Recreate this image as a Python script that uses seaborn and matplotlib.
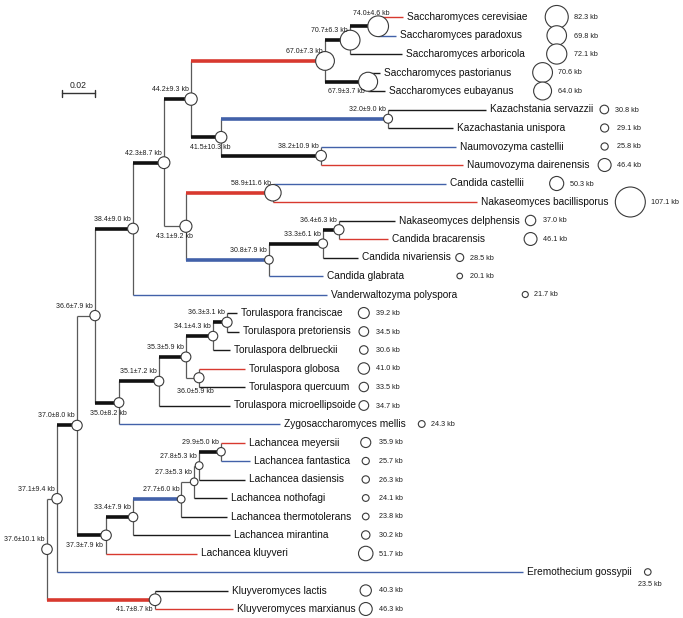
import matplotlib
matplotlib.use("Agg")
import matplotlib.pyplot as plt
import numpy as np
import pandas as pd
import seaborn as sns

# ---------------- data ----------------
leaf_names = [
    "Saccharomyces cerevisiae", "Saccharomyces paradoxus", "Saccharomyces arboricola",
    "Saccharomyces pastorianus", "Saccharomyces eubayanus",
    "Kazachstania servazzii", "Kazachastania unispora",
    "Naumovozyma castellii", "Naumovozyma dairenensis",
    "Candida castellii", "Nakaseomyces bacillisporus",
    "Nakaseomyces delphensis", "Candida bracarensis",
    "Candida nivariensis", "Candida glabrata",
    "Vanderwaltozyma polyspora",
    "Torulaspora franciscae", "Torulaspora pretoriensis", "Torulaspora delbrueckii",
    "Torulaspora globosa", "Torulaspora quercuum", "Torulaspora microellipsoide",
    "Zygosaccharomyces mellis",
    "Lachancea meyersii", "Lachancea fantastica", "Lachancea dasiensis",
    "Lachancea nothofagi", "Lachancea thermotolerans", "Lachancea mirantina",
    "Lachancea kluyveri",
    "Eremothecium gossypii",
    "Kluyveromyces lactis", "Kluyveromyces marxianus",
]
leaf_kb = [82.3, 69.8, 72.1, 70.6, 64.0, 30.8, 29.1, 25.8, 46.4, 50.3, 107.1,
           37.0, 46.1, 28.5, 20.1, 21.7, 39.2, 34.5, 30.6, 41.0, 33.5, 34.7,
           24.3, 35.9, 25.7, 26.3, 24.1, 23.8, 30.2, 51.7, 23.5, 40.3, 46.3]

node_names = ["n37.6", "n37.1", "n37.0", "n36.6", "n38.4", "n42.3", "n44.2", "n67.0",
              "n70.7", "n74.0", "n67.9", "n41.5", "n32.0", "n38.2", "n43.1", "n58.9",
              "n30.8", "n33.3", "n36.4", "n35.0", "n35.1", "n35.3", "n34.1", "n36.3",
              "n36.0", "n37.3", "n33.4", "n27.7", "n27.3", "n27.8", "n29.9", "n41.7"]
node_kb = [37.6, 37.1, 37.0, 36.6, 38.4, 42.3, 44.2, 67.0, 70.7, 74.0, 67.9, 41.5,
           32.0, 38.2, 43.1, 58.9, 30.8, 33.3, 36.4, 35.0, 35.1, 35.3, 34.1, 36.3,
           36.0, 37.3, 33.4, 27.7, 27.3, 27.8, 29.9, 41.7]
node_sd = [10.1, 9.4, 8.0, 7.9, 9.0, 8.7, 9.3, 7.3, 6.3, 4.6, 3.7, 10.3, 9.0, 10.9,
           9.2, 11.6, 7.9, 6.1, 6.3, 8.2, 7.2, 5.9, 4.3, 3.1, 5.9, 7.9, 7.9, 6.0,
           5.3, 5.3, 5.0, 8.7]

edge_child = [
    "n37.1", "n41.7", "n37.0", "Eremothecium gossypii", "n36.6", "n37.3",
    "n38.4", "n35.0", "n42.3", "Vanderwaltozyma polyspora", "n44.2", "n43.1",
    "n67.0", "n41.5", "n70.7", "n67.9", "n74.0", "Saccharomyces arboricola",
    "Saccharomyces cerevisiae", "Saccharomyces paradoxus",
    "Saccharomyces pastorianus", "Saccharomyces eubayanus",
    "n32.0", "n38.2", "Kazachstania servazzii", "Kazachastania unispora",
    "Naumovozyma castellii", "Naumovozyma dairenensis", "n58.9", "n30.8",
    "Candida castellii", "Nakaseomyces bacillisporus", "n33.3", "Candida glabrata",
    "n36.4", "Candida nivariensis", "Nakaseomyces delphensis", "Candida bracarensis",
    "n35.1", "Zygosaccharomyces mellis", "n35.3", "Torulaspora microellipsoide",
    "n34.1", "n36.0", "n36.3", "Torulaspora delbrueckii",
    "Torulaspora franciscae", "Torulaspora pretoriensis",
    "Torulaspora globosa", "Torulaspora quercuum",
    "n33.4", "Lachancea kluyveri", "n27.7", "Lachancea mirantina",
    "n27.3", "Lachancea thermotolerans", "n27.8", "Lachancea nothofagi",
    "n29.9", "Lachancea dasiensis", "Lachancea meyersii", "Lachancea fantastica",
    "Kluyveromyces lactis", "Kluyveromyces marxianus",
]
edge_parent = [
    "n37.6", "n37.6", "n37.1", "n37.1", "n37.0", "n37.0",
    "n36.6", "n36.6", "n38.4", "n38.4", "n42.3", "n42.3",
    "n44.2", "n44.2", "n67.0", "n67.0", "n70.7", "n70.7",
    "n74.0", "n74.0", "n67.9", "n67.9",
    "n41.5", "n41.5", "n32.0", "n32.0", "n38.2", "n38.2", "n43.1", "n43.1",
    "n58.9", "n58.9", "n30.8", "n30.8", "n33.3", "n33.3", "n36.4", "n36.4",
    "n35.0", "n35.0", "n35.1", "n35.1", "n35.3", "n35.3", "n34.1", "n34.1",
    "n36.3", "n36.3", "n36.0", "n36.0",
    "n37.3", "n37.3", "n33.4", "n33.4", "n27.7", "n27.7", "n27.3", "n27.3",
    "n27.8", "n27.8", "n29.9", "n29.9", "n41.7", "n41.7",
]
branch_len = [
    0.0061, 0.0655, 0.0121, 0.2824, 0.0109, 0.0176,
    0.0230, 0.0145, 0.0188, 0.1176, 0.0164, 0.0133,
    0.0812, 0.0182, 0.0152, 0.0261, 0.0170, 0.0315,
    0.0152, 0.0109, 0.0073, 0.0103,
    0.1012, 0.0606, 0.0594, 0.0394, 0.0818, 0.0861, 0.0527, 0.0503,
    0.1048, 0.1236, 0.0327, 0.0327, 0.0097, 0.0212, 0.0339, 0.0297,
    0.0242, 0.0976, 0.0164, 0.0430, 0.0164, 0.0079, 0.0085, 0.0103,
    0.0061, 0.0073, 0.0279, 0.0279,
    0.0164, 0.0552, 0.0291, 0.0588, 0.0079, 0.0279, 0.0030, 0.0200,
    0.0133, 0.0279, 0.0145, 0.0176, 0.0442, 0.0473,
]
scale_bar_len = 0.02

# branch colouring (gain = red, loss = blue) and emphasised branches
red_branches = ["n67.0", "n41.7", "n58.9", "Saccharomyces cerevisiae",
                "Naumovozyma dairenensis", "Nakaseomyces bacillisporus",
                "Candida bracarensis", "Torulaspora globosa", "Lachancea meyersii",
                "Lachancea kluyveri", "Kluyveromyces marxianus"]
blue_branches = ["n32.0", "n30.8", "n27.7", "Saccharomyces paradoxus",
                 "Naumovozyma castellii", "Candida castellii", "Candida glabrata",
                 "Vanderwaltozyma polyspora", "Zygosaccharomyces mellis",
                 "Lachancea fantastica", "Eremothecium gossypii"]
thick_branches = ["n67.0", "n41.7", "n58.9", "n32.0", "n30.8", "n27.7", "n70.7",
                  "n74.0", "n67.9", "n44.2", "n41.5", "n38.2", "n42.3", "n38.4",
                  "n33.3", "n36.4", "n35.0", "n35.1", "n35.3", "n34.1", "n36.3",
                  "n37.0", "n37.3", "n33.4", "n29.9"]

# ---------------- layout / style ----------------
W, H = 683, 618
PX_PER_UNIT = 1650.0
ROOT_PX = 47
TOP_PX, ROW_PX = 17, 18.5
RED, BLUE = "#d8392f", "#4261a9"
R_PER_KB = 0.14   # circle radius in px per kb
PT = 0.72         # points per px at dpi 100

label_pos = {"n74.0": "uc", "n67.9": "ll", "n37.3": "ll", "n41.7": "ll",
             "n41.5": "lc", "n43.1": "lc", "n35.0": "lc", "n36.0": "lc2"}
size_group = ["sac1"] * 3 + ["sac2"] * 2 + ["kaz1"] + ["kaz2"] * 3 + ["ccas", "bac"] + \
             ["nak"] * 2 + ["cgl"] * 2 + ["van"] + ["tor"] * 6 + ["zyg"] + ["lac"] * 7 + \
             ["ere"] + ["lac"] * 2
group_pad = {"sac1": 29, "sac2": 29, "kaz1": 11, "kaz2": 15, "ccas": 33, "bac": 22,
             "nak": 11, "cgl": 9, "van": 68, "tor": 8, "zyg": 16, "lac": 10, "ere": 16}

sns.set_theme(style="white")
plt.rcParams["font.family"] = ["Liberation Sans", "DejaVu Sans"]

fig = plt.figure(figsize=(W / 100, H / 100), dpi=100)
ax = fig.add_axes([0, 0, 1, 1])
ax.set_xlim(-ROOT_PX / PX_PER_UNIT, (W - ROOT_PX) / PX_PER_UNIT)
ax.set_ylim((H - TOP_PX) / ROW_PX, -TOP_PX / ROW_PX)
ax.axis("off")

# ---------------- tree geometry from data ----------------
children = {}
parent_of = {}
blen = {}
for c, p, b in zip(edge_child, edge_parent, branch_len):
    children.setdefault(p, []).append(c)
    parent_of[c] = p
    blen[c] = b
root = [n for n in node_names if n not in parent_of][0]

xpos = {root: 0.0}
order = [root]
i = 0
while i < len(order):
    n = order[i]
    for c in children.get(n, []):
        xpos[c] = xpos[n] + blen[c]
        order.append(c)
    i += 1

ypos = {name: k for k, name in enumerate(leaf_names)}
for n in reversed(order):
    if n in children:
        ypos[n] = np.mean([ypos[c] for c in children[n]])

def branch_style(c):
    thick = c in thick_branches
    if c in red_branches:
        return "thick_red" if thick else "thin_red"
    if c in blue_branches:
        return "thick_blue" if thick else "thin_blue"
    if thick:
        return "thick"
    return "tip" if c in ypos and c in leaf_names else "vert"

rows = []
seg = 0
for c in edge_child:
    p = parent_of[c]
    st = branch_style(c)
    rows.append(dict(seg=seg, x=xpos[p], y=ypos[c], style=st))
    rows.append(dict(seg=seg, x=xpos[c], y=ypos[c], style=st))
    seg += 1
for n, ch in children.items():
    ys = [ypos[c] for c in ch]
    rows.append(dict(seg=seg, x=xpos[n], y=min(ys), style="vert"))
    rows.append(dict(seg=seg, x=xpos[n], y=max(ys), style="vert"))
    seg += 1
segs = pd.DataFrame(rows)

styles = {
    "vert": ("#5a5a5a", 0.9, 1),
    "tip": ("#1a1a1a", 1.0, 1),
    "thin_red": (RED, 1.0, 1),
    "thin_blue": (BLUE, 1.0, 1),
    "thick": ("#111111", 2.6, 2),
    "thick_red": (RED, 2.6, 2),
    "thick_blue": (BLUE, 2.6, 2),
}
for st, (col, lw, z) in styles.items():
    d = segs[segs["style"] == st]
    if len(d):
        sns.lineplot(data=d, x="x", y="y", units="seg", estimator=None, sort=False,
                     color=col, lw=lw, ax=ax, legend=False, zorder=z,
                     solid_capstyle="butt")

# internal node circles
def area(kb):
    return (2 * R_PER_KB * kb * PT) ** 2

nodes_df = pd.DataFrame({"x": [xpos[n] for n in node_names],
                         "y": [ypos[n] for n in node_names],
                         "a": [area(v) for v in node_kb]})
all_a = [area(v) for v in node_kb + leaf_kb]
amin, amax = min(all_a), max(all_a)
sns.scatterplot(data=nodes_df, x="x", y="y", size="a", sizes=(amin, amax),
                size_norm=(amin, amax), color="white", edgecolor="#3a3a3a",
                linewidth=0.8, legend=False, ax=ax, zorder=4)

# node labels
for n, v, sd in zip(node_names, node_kb, node_sd):
    txt = f"{v:.1f}\u00b1{sd:.1f} kb"
    mode = label_pos.get(n, "ul")
    if mode == "ul":
        off, ha = (-2, 9.5), "right"
    elif mode == "ll":
        off, ha = (-3, -10), "right"
    elif mode == "lc":
        off, ha = (-11, -10.5), "center"
    elif mode == "lc2":
        off, ha = (-4, -14), "center"
    else:
        off, ha = (-7, 13), "center"
    ax.annotate(txt, (xpos[n], ypos[n]), xytext=(off[0] * PT, off[1] * PT),
                textcoords="offset points", ha=ha, va="center", fontsize=5.0,
                color="#1e1e1e", zorder=5)

# tip labels
tip_texts = []
for name in leaf_names:
    t = ax.annotate(name, (xpos[name], ypos[name]), xytext=(4 * PT, 0),
                    textcoords="offset points", ha="left", va="center",
                    fontsize=7.3, color="#111111", zorder=5)
    tip_texts.append(t)

fig.canvas.draw()
renderer = fig.canvas.get_renderer()
ends = [t.get_window_extent(renderer).x1 for t in tip_texts]
inv = ax.transData.inverted()

group_end = {}
group_rmax = {}
for g, e, kb in zip(size_group, ends, leaf_kb):
    group_end[g] = max(group_end.get(g, 0), e)
    group_rmax[g] = max(group_rmax.get(g, 0), R_PER_KB * kb)

cx, cy = [], []
for name, g in zip(leaf_names, size_group):
    xd = group_end[g] + group_pad[g]
    yd = ax.transData.transform((0, ypos[name]))[1]
    xx, _ = inv.transform((xd, yd))
    cx.append(xx)
    cy.append(ypos[name])

leaf_df = pd.DataFrame({"x": cx, "y": cy, "a": [area(v) for v in leaf_kb]})
sns.scatterplot(data=leaf_df, x="x", y="y", size="a", sizes=(amin, amax),
                size_norm=(amin, amax), color="white", edgecolor="#3a3a3a",
                linewidth=0.8, legend=False, ax=ax, zorder=4)

for name, g, x, y, kb in zip(leaf_names, size_group, cx, cy, leaf_kb):
    if g == "ere":
        ax.annotate(f"{kb:.1f} kb", (x, y), xytext=(2 * PT, -12 * PT),
                    textcoords="offset points", ha="center", va="center",
                    fontsize=5.2, color="#1e1e1e")
    else:
        ax.annotate(f"{kb:.1f} kb", (x, y),
                    xytext=((group_rmax[g] + 6) * PT, -0.5 * PT),
                    textcoords="offset points", ha="left", va="center",
                    fontsize=5.2, color="#1e1e1e")

# scale bar
sb_x0 = (62 - ROOT_PX) / PX_PER_UNIT
sb_y = (93 - TOP_PX) / ROW_PX
tick = 3.5 / ROW_PX
sb = pd.DataFrame({
    "seg": [0, 0, 1, 1, 2, 2],
    "x": [sb_x0, sb_x0 + scale_bar_len, sb_x0, sb_x0,
          sb_x0 + scale_bar_len, sb_x0 + scale_bar_len],
    "y": [sb_y, sb_y, sb_y - tick, sb_y + tick, sb_y - tick, sb_y + tick],
})
sns.lineplot(data=sb, x="x", y="y", units="seg", estimator=None, sort=False,
             color="#333333", lw=1.0, ax=ax, legend=False)
ax.annotate(f"{scale_bar_len:.2f}", (sb_x0 + scale_bar_len / 2, sb_y),
            xytext=(0, 8 * PT), textcoords="offset points", ha="center",
            va="center", fontsize=6.2, color="#222222")

ax.set_xlabel("")
ax.set_ylabel("")
fig.savefig("out.png", dpi=100)
